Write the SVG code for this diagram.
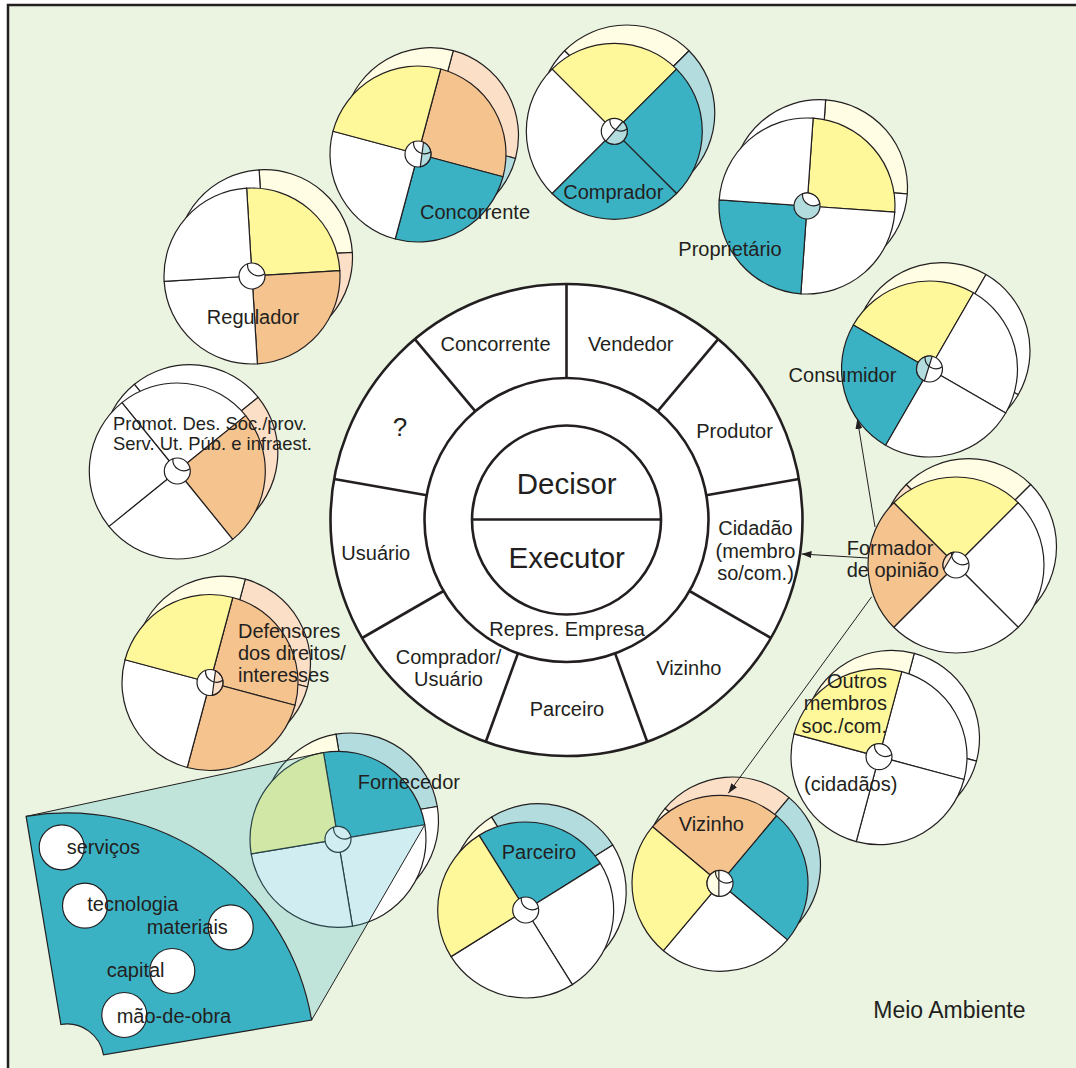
<svg xmlns="http://www.w3.org/2000/svg" width="1076" height="1068" viewBox="0 0 1076 1068">
<style>
  text{font-family:"Liberation Sans",Arial,Helvetica,sans-serif;fill:#231f20;font-size:20px}
  .wh{stroke:#231f20;stroke-width:1.2;stroke-linejoin:round}
  .hub{stroke:#231f20;stroke-width:2.6;fill:#fff}
  .y{fill:#fff89b}.o{fill:#f5c38e}.t{fill:#3bb2c4}.w{fill:#fff}
  .py{fill:#fffde4}.po{fill:#fbdfc7}.lt{fill:#b2dcde}
  .conn{stroke:#231f20;stroke-width:1;fill:none}
  .ring{fill:#fff;stroke:#231f20;stroke-width:1.2}
</style>
<defs>
  <!-- one quarter of a wheel, r=88, spanning 0..90 degrees -->
  <path id="q" d="M0,0 L88,0 A88,88 0 0,1 0,88 Z"/>
  <!-- small inner arc in the hub of each wheel -->
  <path id="cr" d="M-4.45,-12.22 A11,11 0 0 0 12.8,-2.26" fill="none"/>
  <marker id="ah" viewBox="0 0 10 7" refX="10" refY="3.5" markerWidth="10" markerHeight="7" orient="auto" markerUnits="userSpaceOnUse">
    <path d="M0,0 L10,3.5 L0,7 Z" fill="#231f20"/>
  </marker>
</defs>

<rect width="1076" height="1068" fill="#fff"/>
<rect x="8" y="5" width="1090" height="1090" fill="#eaf4e1" stroke="#231f20" stroke-width="2.5"/>

<!-- central wheel -->
<g id="hub">
  <g class="hub">
    <circle cx="566.5" cy="520" r="236"/>
    <line x1="566.5" y1="378" x2="566.5" y2="284"/>
    <line x1="657.8" y1="411.2" x2="718.2" y2="339.2"/>
    <line x1="706.3" y1="495.3" x2="798.9" y2="479"/>
    <line x1="689.5" y1="591" x2="770.9" y2="638"/>
    <line x1="615.1" y1="653.4" x2="647.2" y2="741.8"/>
    <line x1="517.9" y1="653.4" x2="485.8" y2="741.8"/>
    <line x1="443.5" y1="591" x2="362.1" y2="638"/>
    <line x1="426.7" y1="495.3" x2="334.1" y2="479"/>
    <line x1="475.2" y1="411.2" x2="414.8" y2="339.2"/>
    <circle cx="566.5" cy="520" r="142"/>
    <circle cx="566.5" cy="520" r="94.5"/>
    <line x1="472" y1="519.5" x2="661" y2="519.5"/>
  </g>
  <g text-anchor="middle">
    <text x="495.5" y="351">Concorrente</text>
    <text x="630.7" y="351">Vendedor</text>
    <text x="734.5" y="438">Produtor</text>
    <text x="755.5" y="535">Cidadão</text>
    <text x="755.5" y="558">(membro</text>
    <text x="755.5" y="580">so/com.)</text>
    <text x="688.8" y="675">Vizinho</text>
    <text x="567" y="716">Parceiro</text>
    <text x="448.5" y="664">Comprador/</text>
    <text x="448.5" y="686">Usuário</text>
    <text x="375.8" y="560">Usuário</text>
    <text x="400" y="436" style="font-size:26px">?</text>
    <text x="567" y="636">Repres. Empresa</text>
    <text x="566.7" y="494" style="font-size:29.5px">Decisor</text>
    <text x="566.7" y="568" style="font-size:29.5px">Executor</text>
  </g>
</g>

<!-- Regulador -->
<g id="regulador">
  <g class="wh" transform="translate(252,276)">
    <g transform="translate(12.5,-18.3)">
      <use href="#q" class="py" transform="rotate(-93.5)"/>
      <use href="#q" class="po" transform="rotate(-3.5)"/>
      <use href="#q" class="w" transform="rotate(86.5)"/>
      <use href="#q" class="w" transform="rotate(176.5)"/>
    </g>
    <use href="#q" class="y" transform="rotate(-93.5)"/>
    <use href="#q" class="o" transform="rotate(-3.5)"/>
    <use href="#q" class="w" transform="rotate(86.5)"/>
    <use href="#q" class="w" transform="rotate(176.5)"/>
    <circle r="13" class="w"/>
    <use href="#cr"/>
  </g>
  <text x="253" y="324" text-anchor="middle">Regulador</text>
</g>

<!-- Concorrente -->
<g id="concorrente">
  <g class="wh" transform="translate(418,154)">
    <g transform="translate(12.5,-18.3)">
      <use href="#q" class="po" transform="rotate(-75)"/>
      <use href="#q" class="lt" transform="rotate(15)"/>
      <use href="#q" class="w" transform="rotate(105)"/>
      <use href="#q" class="py" transform="rotate(195)"/>
    </g>
    <use href="#q" class="o" transform="rotate(-75)"/>
    <use href="#q" class="t" transform="rotate(15)"/>
    <use href="#q" class="w" transform="rotate(105)"/>
    <use href="#q" class="y" transform="rotate(195)"/>
    <circle r="13" class="w"/>
    <path class="lt" d="M5.49,-11.78 A13,13 0 0 1 2.26,12.8 Z"/>
    <use href="#cr"/>
  </g>
  <text x="475" y="219" text-anchor="middle">Concorrente</text>
</g>

<!-- Comprador -->
<g id="comprador">
  <g class="wh" transform="translate(614.3,131.3)">
    <g transform="translate(12.5,-18.3)">
      <use href="#q" class="py" transform="rotate(-135)"/>
      <use href="#q" class="lt" transform="rotate(-45)"/>
      <use href="#q" class="lt" transform="rotate(45)"/>
      <use href="#q" class="w" transform="rotate(135)"/>
    </g>
    <use href="#q" class="y" transform="rotate(-135)"/>
    <use href="#q" class="t" transform="rotate(-45)"/>
    <use href="#q" class="t" transform="rotate(45)"/>
    <use href="#q" class="w" transform="rotate(135)"/>
    <circle r="13" class="w"/>
    <path class="lt" d="M8.53,-9.81 A13,13 0 0 1 -8.53,9.81 Z"/>
    <use href="#cr"/>
  </g>
  <text x="613.3" y="199" text-anchor="middle">Comprador</text>
</g>

<!-- Proprietário -->
<g id="proprietario">
  <g class="wh" transform="translate(807,206)">
    <g transform="translate(12.5,-18.3)">
      <use href="#q" class="py" transform="rotate(-86)"/>
      <use href="#q" class="w" transform="rotate(4)"/>
      <use href="#q" class="lt" transform="rotate(94)"/>
      <use href="#q" class="w" transform="rotate(184)"/>
    </g>
    <use href="#q" class="y" transform="rotate(-86)"/>
    <use href="#q" class="w" transform="rotate(4)"/>
    <use href="#q" class="t" transform="rotate(94)"/>
    <use href="#q" class="w" transform="rotate(184)"/>
    <circle r="13" class="lt"/>
    <path class="w" d="M-4.45,-12.22 A13,13 0 0 1 12.8,-2.26 A11,11 0 0 1 -4.45,-12.22 Z"/>
  </g>
  <text x="730" y="256" text-anchor="middle">Proprietário</text>
</g>

<!-- Consumidor -->
<g id="consumidor">
  <g class="wh" transform="translate(929.5,369)">
    <g transform="translate(12.5,-18.3)">
      <use href="#q" class="py" transform="rotate(-150)"/>
      <use href="#q" class="w" transform="rotate(-60)"/>
      <use href="#q" class="w" transform="rotate(30)"/>
      <use href="#q" class="lt" transform="rotate(120)"/>
    </g>
    <use href="#q" class="y" transform="rotate(-150)"/>
    <use href="#q" class="w" transform="rotate(-60)"/>
    <use href="#q" class="w" transform="rotate(30)"/>
    <use href="#q" class="t" transform="rotate(120)"/>
    <circle r="13" class="w"/>
    <path class="lt" d="M-5.08,11.97 A13,13 0 0 1 2.7,-12.72 Z"/>
    <use href="#cr"/>
  </g>
  <text x="842.5" y="382" text-anchor="middle">Consumidor</text>
</g>

<!-- Formador de opinião -->
<g id="formador">
  <g class="wh" transform="translate(956,565)">
    <g transform="translate(12.5,-18.3)">
      <use href="#q" class="py" transform="rotate(-135)"/>
      <use href="#q" class="w" transform="rotate(-45)"/>
      <use href="#q" class="w" transform="rotate(45)"/>
      <use href="#q" class="po" transform="rotate(135)"/>
    </g>
    <use href="#q" class="y" transform="rotate(-135)"/>
    <use href="#q" class="w" transform="rotate(-45)"/>
    <use href="#q" class="w" transform="rotate(45)"/>
    <use href="#q" class="o" transform="rotate(135)"/>
    <circle r="13" class="w"/>
    <path class="po" d="M-12.22,4.45 A13,13 0 0 1 -2.26,-12.8 Z"/>
    <use href="#cr"/>
  </g>
  <text x="846.7" y="555">Formador</text>
  <text x="846.7" y="577">de opinião</text>
</g>

<!-- Promot. Des. Soc. -->
<g id="promotor">
  <g class="wh" transform="translate(177.3,471)">
    <g transform="translate(12.5,-18.3)">
      <use href="#q" class="w" transform="rotate(-129)"/>
      <use href="#q" class="po" transform="rotate(-39)"/>
      <use href="#q" class="w" transform="rotate(51)"/>
      <use href="#q" class="w" transform="rotate(141)"/>
    </g>
    <use href="#q" class="w" transform="rotate(-129)"/>
    <use href="#q" class="o" transform="rotate(-39)"/>
    <use href="#q" class="w" transform="rotate(51)"/>
    <use href="#q" class="w" transform="rotate(141)"/>
    <circle r="13" class="w"/>
    <use href="#cr"/>
  </g>
  <text x="113" y="430" style="font-size:18.4px">Promot. Des. Soc./prov.</text>
  <text x="113" y="450" style="font-size:18.4px">Serv. Ut. Púb. e infraest.</text>
</g>

<!-- Defensores -->
<g id="defensores">
  <g class="wh" transform="translate(210,682.5)">
    <g transform="translate(12.5,-18.3)">
      <use href="#q" class="po" transform="rotate(-75)"/>
      <use href="#q" class="po" transform="rotate(15)"/>
      <use href="#q" class="w" transform="rotate(105)"/>
      <use href="#q" class="py" transform="rotate(195)"/>
    </g>
    <use href="#q" class="o" transform="rotate(-75)"/>
    <use href="#q" class="o" transform="rotate(15)"/>
    <use href="#q" class="w" transform="rotate(105)"/>
    <use href="#q" class="y" transform="rotate(195)"/>
    <circle r="13" class="w"/>
    <path class="po" d="M5.49,-11.78 A13,13 0 0 1 2.26,12.8 Z"/>
    <use href="#cr"/>
  </g>
  <text x="238" y="638">Defensores</text>
  <text x="238" y="660">dos direitos/</text>
  <text x="238" y="682">interesses</text>
</g>

<!-- Fornecedor with its enlarged sector -->
<g id="fornecedor">
  <g class="wh" transform="translate(338,839.3)">
    <g transform="translate(12.5,-18.3)">
      <use href="#q" class="lt" transform="rotate(-99.5)"/>
      <use href="#q" class="w" transform="rotate(-9.5)"/>
      <use href="#q" class="w" transform="rotate(80.5)"/>
      <use href="#q" class="py" transform="rotate(170.5)"/>
    </g>
    <use href="#q" class="t" transform="rotate(-99.5)"/>
    <use href="#q" class="w" transform="rotate(-9.5)"/>
    <use href="#q" class="w" transform="rotate(80.5)"/>
    <use href="#q" class="y" transform="rotate(170.5)"/>
    <circle r="13" class="w"/>
    <use href="#cr"/>
  </g>
  <polygon points="26.1,816.4 323.5,752.5 424.8,824.8 311.6,1020.1" fill="#3bb2c4" fill-opacity="0.24"/>
  <g class="conn">
    <line x1="26.1" y1="816.4" x2="323.5" y2="752.5"/>
    <line x1="424.8" y1="824.8" x2="311.6" y2="1020.1"/>
  </g>
  <path class="t" stroke="#231f20" stroke-width="1.2" d="M26.1,816.4 A248,248 0 0 1 311.6,1020.1 L103.5,1054.9 A37,37 0 0 0 60.9,1024.5 Z"/>
  <g class="ring">
    <circle cx="61.7" cy="847.3" r="22.5"/>
    <circle cx="85" cy="905.7" r="22.5"/>
    <circle cx="230.7" cy="927.3" r="22.5"/>
    <circle cx="172.3" cy="971" r="22.5"/>
    <circle cx="124.3" cy="1015" r="22.5"/>
  </g>
  <text x="66.7" y="854">serviços</text>
  <text x="87.3" y="911">tecnologia</text>
  <text x="146.7" y="934">materiais</text>
  <text x="106.7" y="977">capital</text>
  <text x="116.7" y="1023">mão-de-obra</text>
  <text x="357.7" y="789">Fornecedor</text>
</g>

<!-- Parceiro -->
<g id="parceiro">
  <g class="wh" transform="translate(525.7,910)">
    <g transform="translate(12.5,-18.3)">
      <use href="#q" class="lt" transform="rotate(-122)"/>
      <use href="#q" class="w" transform="rotate(-32)"/>
      <use href="#q" class="w" transform="rotate(58)"/>
      <use href="#q" class="py" transform="rotate(148)"/>
    </g>
    <use href="#q" class="t" transform="rotate(-122)"/>
    <use href="#q" class="w" transform="rotate(-32)"/>
    <use href="#q" class="w" transform="rotate(58)"/>
    <use href="#q" class="y" transform="rotate(148)"/>
    <circle r="13" class="w"/>
    <use href="#cr"/>
  </g>
  <text x="539" y="859" text-anchor="middle">Parceiro</text>
</g>

<!-- Vizinho -->
<g id="vizinho">
  <g class="wh" transform="translate(720,883.3)">
    <g transform="translate(12.5,-18.3)">
      <use href="#q" class="po" transform="rotate(-140)"/>
      <use href="#q" class="lt" transform="rotate(-50)"/>
      <use href="#q" class="w" transform="rotate(40)"/>
      <use href="#q" class="py" transform="rotate(130)"/>
    </g>
    <use href="#q" class="o" transform="rotate(-140)"/>
    <use href="#q" class="t" transform="rotate(-50)"/>
    <use href="#q" class="w" transform="rotate(40)"/>
    <use href="#q" class="y" transform="rotate(130)"/>
    <circle r="13" class="w"/>
    <path class="py" d="M-1.13,12.95 A13,13 0 0 1 -1.13,-12.95 Z"/>
    <use href="#cr"/>
  </g>
  <text x="711.3" y="831" text-anchor="middle">Vizinho</text>
</g>

<!-- Outros membros -->
<g id="outros">
  <g class="wh" transform="translate(879,756.7)">
    <g transform="translate(12.5,-18.3)">
      <use href="#q" class="w" transform="rotate(-75)"/>
      <use href="#q" class="w" transform="rotate(15)"/>
      <use href="#q" class="w" transform="rotate(105)"/>
      <use href="#q" class="py" transform="rotate(195)"/>
    </g>
    <use href="#q" class="w" transform="rotate(-75)"/>
    <use href="#q" class="w" transform="rotate(15)"/>
    <use href="#q" class="w" transform="rotate(105)"/>
    <use href="#q" class="y" transform="rotate(195)"/>
    <circle r="13" class="w"/>
    <use href="#cr"/>
  </g>
  <g text-anchor="end">
    <text x="887" y="688">Outros</text>
    <text x="887" y="710">membros</text>
    <text x="887" y="733">soc./com.</text>
  </g>
  <text x="804" y="791">(cidadãos)</text>
</g>

<!-- influence arrows -->
<g id="connectors" class="conn" marker-end="url(#ah)">
  <path d="M875,527 L857.3,419"/>
  <path d="M868,558 L801.5,554"/>
  <path d="M871.7,596.7 L728.3,793.3"/>
</g>

<text x="873.3" y="1018" style="font-size:23px">Meio Ambiente</text>
</svg>
